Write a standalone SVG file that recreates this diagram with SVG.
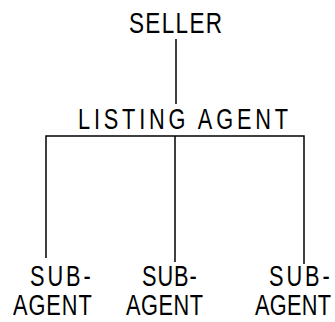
<svg xmlns="http://www.w3.org/2000/svg" width="335" height="322" viewBox="0 0 335 322">
<style>
.t{font-family:"Liberation Sans","DejaVu Sans",sans-serif;font-size:29px;fill:#000;}
.c{stroke:#000;stroke-width:1.5;fill:none;}
</style>
<rect width="335" height="322" fill="#fff"/>
<g id="connectors">
<line class="c" x1="176" y1="39" x2="176" y2="104"/>
<polyline class="c" points="46,258 46,136 304,136 304,264"/>
<line class="c" x1="175" y1="136" x2="175" y2="262"/>
</g>
<g id="seller"><text class="t" transform="scale(0.75 1)" x="172" y="33" style="font-size:30px" textLength="124" lengthAdjust="spacing">SELLER</text></g>
<g id="listing-agent"><text class="t" transform="scale(0.75 1)" x="104" y="129" textLength="280" lengthAdjust="spacing">LISTING AGENT</text></g>
<g id="sub-agent-1"><text class="t" transform="scale(0.75 1)" x="40" y="286" textLength="81" lengthAdjust="spacing">SUB-</text><text class="t" transform="scale(0.75 1)" x="17.3" y="315" textLength="105" lengthAdjust="spacing">AGENT</text></g>
<g id="sub-agent-2"><text class="t" transform="scale(0.75 1)" x="189.3" y="286" textLength="73" lengthAdjust="spacing">SUB-</text><text class="t" transform="scale(0.75 1)" x="168" y="315" textLength="102.7" lengthAdjust="spacing">AGENT</text></g>
<g id="sub-agent-3"><text class="t" transform="scale(0.75 1)" x="358.7" y="286" textLength="81" lengthAdjust="spacing">SUB-</text><text class="t" transform="scale(0.75 1)" x="340" y="315" textLength="101.3" lengthAdjust="spacing">AGENT</text></g>
</svg>
